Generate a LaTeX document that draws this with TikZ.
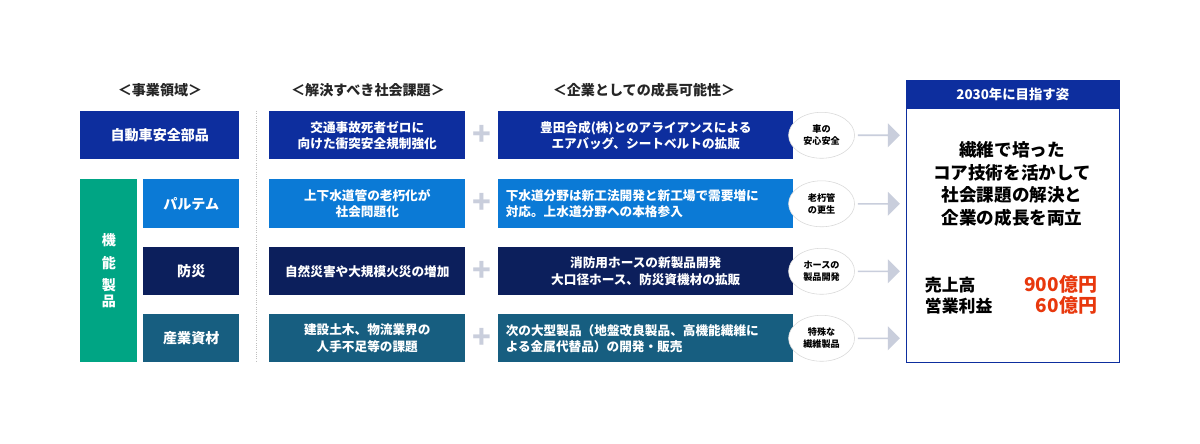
\documentclass[tikz,border=0pt]{standalone}
\usepackage{fontspec}
\setmainfont{Noto Sans CJK JP}
\usetikzlibrary{shapes.arrows,shapes.geometric,calc}
\definecolor{carblue}{HTML}{0D2E9E}
\definecolor{pipeblue}{HTML}{0B7AD6}
\definecolor{firenavy}{HTML}{0C1F5C}
\definecolor{indteal}{HTML}{175E80}
\definecolor{funcgreen}{HTML}{00A584}
\definecolor{plusgray}{HTML}{C9CEDC}
\definecolor{salesred}{HTML}{E8380D}
\tikzset{
  box/.style={fill=#1, text=white, font=\bfseries\fontsize{9}{11.5}\selectfont, align=center, inner sep=0pt, anchor=north west},
  header/.style={font=\bfseries\fontsize{10}{12}\selectfont, text=black!85},
  tag/.style={ellipse, draw=black!15, fill=white, minimum width=1.65cm, minimum height=1.15cm, inner sep=0pt, align=center, font=\bfseries\fontsize{6.5}{8.5}\selectfont},
  flow/.style={single arrow, fill=plusgray, minimum height=1.05cm, minimum width=0.6cm, single arrow head extend=0.1cm, inner sep=0pt},
}
\begin{document}
\begin{tikzpicture}[x=1cm,y=1cm]
  \useasboundingbox[fill=white] (0,0) rectangle (30,-11.075);
  % headers
  \node[header] (h1) at (4.0,-2.25) {＜事業領域＞};
  \node[header] (h2) at (9.2,-2.25) {＜解決すべき社会課題＞};
  \node[header] (h3) at (16.1,-2.25) {＜企業としての成長可能性＞};
  % business areas
  \node[box=carblue, minimum width=3.975cm, minimum height=1.2cm] (a1) at (2.0,-2.775) {\fontsize{10}{12}\selectfont 自動車安全部品};
  \node[box=funcgreen, minimum width=1.425cm, minimum height=4.575cm, text width=1.425cm] (fn) at (2.0,-4.475) {\fontsize{10}{16}\selectfont 機\\能\\製\\品};
  \node[box=pipeblue, minimum width=2.4cm, minimum height=1.225cm] (a2) at (3.575,-4.475) {\fontsize{10}{12}\selectfont パルテム};
  \node[box=firenavy, minimum width=2.4cm, minimum height=1.2cm] (a3) at (3.575,-6.175) {\fontsize{10}{12}\selectfont 防災};
  \node[box=indteal, minimum width=2.4cm, minimum height=1.2cm] (a4) at (3.575,-7.85) {\fontsize{10}{12}\selectfont 産業資材};
  \draw[black!25, densely dotted, line width=0.6pt] (6.4,-2.775) -- (6.4,-9.05);
  % social issues
  \node[box=carblue, minimum width=4.9cm, minimum height=1.2cm] (b1) at (6.725,-2.775) {交通事故死者ゼロに\\向けた衝突安全規制強化};
  \node[box=pipeblue, minimum width=4.9cm, minimum height=1.225cm] (b2) at (6.725,-4.475) {上下水道管の老朽化が\\社会問題化};
  \node[box=firenavy, minimum width=4.9cm, minimum height=1.2cm] (b3) at (6.725,-6.175) {自然災害や大規模火災の増加};
  \node[box=indteal, minimum width=4.9cm, minimum height=1.2cm] (b4) at (6.725,-7.85) {建設土木、物流業界の\\人手不足等の課題};
  % growth potential
  \node[box=carblue, minimum width=7.375cm, minimum height=1.2cm] (c1) at (12.45,-2.775) {豊田合成(株)とのアライアンスによる\\エアバッグ、シートベルトの拡販};
  \node[box=pipeblue, minimum width=7.375cm, minimum height=1.225cm, text width=7.0cm, align=left] (c2) at (12.45,-4.475) {下水道分野は新工法開発と新工場で需要増に\\対応。上水道分野への本格参入};
  \node[box=firenavy, minimum width=7.375cm, minimum height=1.2cm] (c3) at (12.45,-6.175) {消防用ホースの新製品開発\\大口径ホース、防災資機材の拡販};
  \node[box=indteal, minimum width=7.375cm, minimum height=1.2cm, text width=7.0cm, align=left] (c4) at (12.45,-7.85) {次の大型製品（地盤改良製品、高機能繊維に\\よる金属代替品）の開発・販売};
  % goal
  \node[draw=carblue, line width=0.6pt, minimum width=5.325cm, minimum height=7.05cm, anchor=north west, inner sep=0pt] (goal) at (22.65,-2.0) {};
  \node[fill=carblue, text=white, minimum width=5.325cm, minimum height=0.725cm, anchor=north west, inner sep=0pt, font=\bfseries\fontsize{9.5}{11}\selectfont] (gh) at (22.65,-2.0) {2030年に目指す姿};
  \node[font=\bfseries\fontsize{12.5}{16}\selectfont, align=center] (gt) at (25.3,-4.6) {繊維で培った\\コア技術を活かして\\社会課題の解決と\\企業の成長を両立};
  \node[font=\bfseries\fontsize{12}{15}\selectfont, align=left, anchor=west] (gl) at (23.0,-7.38) {売上高\\営業利益};
  \node[font=\bfseries\fontsize{13.5}{15}\selectfont, align=right, anchor=east, text=salesred] (gv) at (27.55,-7.38) {900億円\\60億円};
  % connectors per row
  \foreach \r/\t in {1/{車の\\安心安全}, 2/{老朽管\\の更生}, 3/{ホースの\\製品開発}, 4/{特殊な\\繊維製品}}{
    \node[font=\bfseries\fontsize{22}{22}\selectfont, text=plusgray] (p\r) at ($(b\r.east)!0.5!(c\r.west)$) {+};
    \node[flow, anchor=west] (f\r) at ([xshift=1.6cm]c\r.east) {};
    \node[tag] (t\r) at ([xshift=0.7cm]c\r.east) {\t};
  }
\end{tikzpicture}
\end{document}
